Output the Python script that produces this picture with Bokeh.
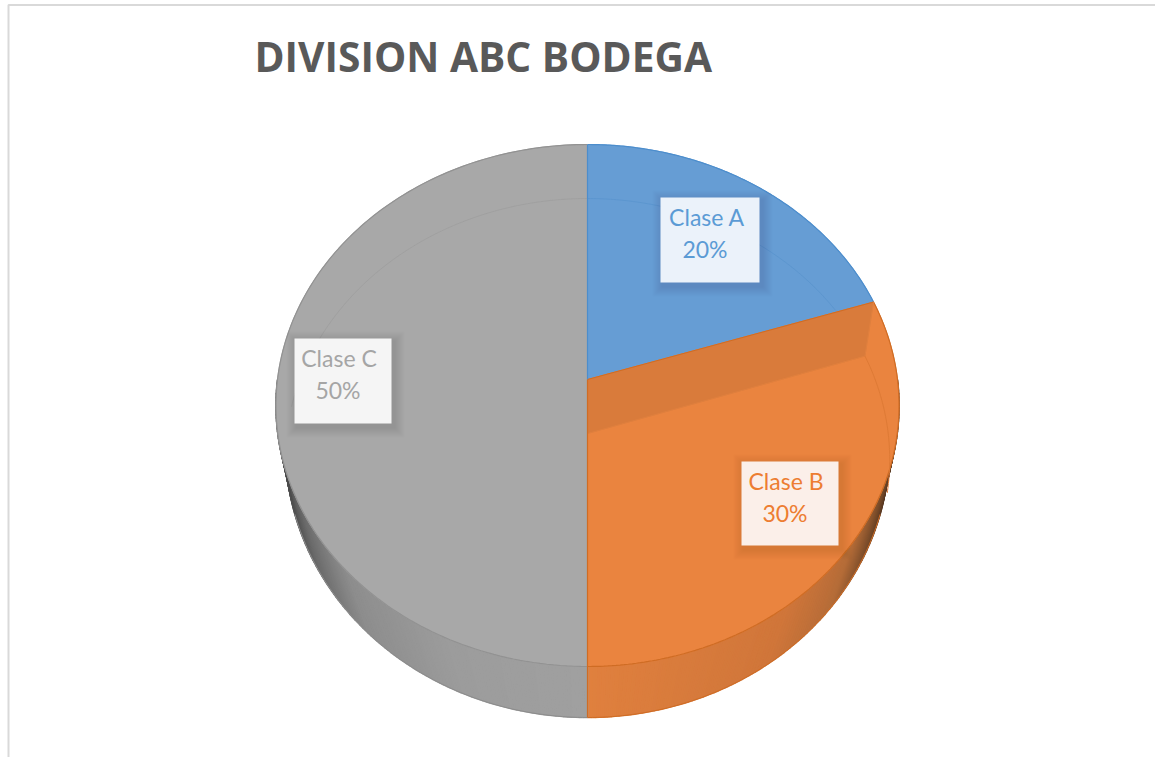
import numpy as np
from bokeh.embed import file_html
from bokeh.models import Range1d
from bokeh.plotting import figure
from bokeh.resources import INLINE
from bokeh.core.properties import value

# Chart content
chart_title = "DIVISION ABC BODEGA"
classes = ["Clase A", "Clase B", "Clase C"]
shares = [20, 30, 50]

# Colours of each slice: top face, outline, label fill, ring line
face = ["#669dd4", "#ea843f", "#a8a8a8"]
edge = ["#4c8dcc", "#cf6c24", "#929292"]
box_fill = ["#ebf2fa", "#fbefe9", "#f5f5f5"]
text_col = ["#5b9bd5", "#ed7d31", "#a5a5a5"]
bevel_col = "#d97b3b"

# Label boxes as left, right, top, bottom in page units
boxes = {
    "Clase A": (660, 759, 197, 282),
    "Clase B": (741, 838, 461, 545),
    "Clase C": (294, 391, 338, 423),
}

# Perspective disc: centre of the circle, half-widths and foreshortening
CX, APEX_Y = 587.0, 379.0
PERSP, SCALE_Y, SCALE_X = 0.0996, 258.4, 310.0
BEVEL_DROP, BEVEL_X = 54.0, 0.97
LOWER_CY, LOWER_RX, LOWER_RY = 447.0, 302.0, 270.0


def rim(theta, drop=0.0, xscale=1.0):
    """Project a clockwise angle from 12 o'clock on to the tilted disc."""
    v, s = np.cos(theta), np.sin(theta)
    d = 1 + PERSP * v
    return CX + xscale * SCALE_X * s / d, APEX_Y + drop - SCALE_Y * v / d


def lower_rim(theta):
    return CX + LOWER_RX * np.sin(theta), LOWER_CY - LOWER_RY * np.cos(theta)


def shade(stops, t):
    xs = [a for a, _ in stops]
    rgb = [np.interp(t, xs, [c[i] for _, c in stops]) for i in range(3)]
    return "#%02x%02x%02x" % tuple(int(round(c)) for c in rgb)


p = figure(
    width=1155,
    height=757,
    x_range=Range1d(0, 1155),
    y_range=Range1d(757, 0),
    output_backend="svg",
    toolbar_location=None,
    min_border=0,
    outline_line_color=None,
    background_fill_color="white",
    border_fill_color="white",
)
p.axis.visible = False
p.grid.visible = False

# Chart frame: only the top and left edges fall inside the page
p.line([8, 8, 1155], [757, 4.5, 4.5], line_color="#d9d9d9", line_width=2)

# Slice angles, clockwise from 12 o'clock
edges = np.radians(np.cumsum([0] + shares) * 3.6)
a0, a1, a2, a3 = edges

# Side wall, built of narrow strips so the shading can run round the drum
orange_stops = [(0, (224, 128, 62)), (0.59, (208, 118, 58)), (0.8, (181, 108, 56)),
                (0.91, (122, 76, 42)), (1.0, (70, 46, 30))]
grey_stops = [(0, (160, 160, 160)), (0.41, (156, 156, 156)), (0.73, (141, 141, 141)),
              (0.89, (107, 107, 107)), (1.0, (72, 72, 72))]
steps = np.linspace(np.pi / 2, 3 * np.pi / 2, 241)
xs, ys, cols = [], [], []
for t0, t1 in zip(steps[:-1], steps[1:]):
    x0, y0 = rim(np.array([t0, t1]))
    x1, y1 = lower_rim(np.array([t1, t0]))
    xs.append(list(x0) + list(x1))
    ys.append(list(y0) + list(y1))
    mid = (t0 + t1) / 2
    cols.append(shade(orange_stops if mid < np.pi else grey_stops, abs(np.sin(mid))))
p.patches(xs, ys, fill_color=cols, line_color=cols, line_width=1.5)

# Outer silhouette of the drum
sil = np.linspace(np.pi / 2 + 0.25, np.pi, 80)
lx, ly = lower_rim(sil)
p.line(lx, ly, line_color=edge[1], line_width=1)
sil = np.linspace(np.pi, 3 * np.pi / 2 - 0.25, 80)
lx, ly = lower_rim(sil)
p.line(lx, ly, line_color="#8c8c8c", line_width=1)

# Top faces of the three slices
for (start, stop), fill, line in zip(zip(edges[:-1], edges[1:]), face, edge):
    th = np.linspace(start, stop, 160)
    rx, ry = rim(th)
    p.patch(np.r_[CX, rx], np.r_[APEX_Y, ry], fill_color=fill, line_color=fill, line_width=1)
    p.line(rx, ry, line_color=line, line_width=1.2)

# Darker bevel along the raised inner edge of the orange slice
bx, by = rim(np.array([a1]))
ix, iy = rim(np.array([a1]), BEVEL_DROP, BEVEL_X)
p.patch([CX, bx[0], ix[0], CX], [APEX_Y, by[0], iy[0], APEX_Y + BEVEL_DROP],
        fill_color=bevel_col, line_color=bevel_col, line_width=0.5)
p.line([CX, bx[0]], [APEX_Y, by[0]], line_color=edge[1], line_width=1)
p.line([CX, ix[0]], [APEX_Y + BEVEL_DROP, iy[0]], line_color="#e0803e", line_width=1)
p.line([bx[0], ix[0]], [by[0], iy[0]], line_color="#e0803e", line_width=1)

# Faint inner ring on the top face
th = np.linspace(a0, a1, 120)
rx, ry = rim(th, BEVEL_DROP, BEVEL_X)
above = ry < APEX_Y + (rx - CX) * (by[0] - APEX_Y) / (bx[0] - CX)
p.line(rx[above], ry[above], line_color="#5c96cf", line_width=1)
th = np.linspace(a1, a1 + np.radians(31), 60)
rx, ry = rim(th, BEVEL_DROP, BEVEL_X)
p.line(rx, ry, line_color="#de7a35", line_width=1)
th = np.linspace(a3 - np.radians(84), a3, 120)
rx, ry = rim(th, BEVEL_DROP, BEVEL_X)
p.line(rx, ry, line_color="#a0a0a0", line_width=1)

# Vertical seams between the grey half and the coloured slices
p.line([CX, CX], [rim(a0)[1], APEX_Y], line_color=edge[0], line_width=1.2)
p.line([CX, CX], [APEX_Y, lower_rim(np.pi)[1]], line_color=edge[1], line_width=1.2)

# Data labels on soft-shadowed boxes
for name, share, fill, colour in zip(classes, shares, box_fill, text_col):
    left, right, top, bottom = boxes[name]
    for k in range(1, 11):
        grow = 11 - k
        p.quad(left=left + 2 - grow, right=right + 3 + grow, top=top + 3 - grow,
               bottom=bottom + 4 + grow, fill_color="black", fill_alpha=0.007, line_color=None)
    p.quad(left=left, right=right, top=top, bottom=bottom, fill_color=fill, line_color=None)
    mid = (left + right) / 2
    p.text([mid - 4 + (1 if name == "Clase A" else 0)], [top + 19], text=[name],
           text_font=value("Lato"), text_font_size="23px", text_color=colour,
           text_align="center", text_baseline="middle")
    p.text([mid - 5], [top + 51], text=[f"{share}%"],
           text_font=value("Lato"), text_font_size="23px", text_color=colour,
           text_align="center", text_baseline="middle")

p.text([254], [55], text=[chart_title], text_font=value("Open Sans"), text_font_size="40.7px",
       text_font_style="bold", text_color="#595959", text_align="left", text_baseline="middle")

open("out.html", "w").write(file_html(p, INLINE))
